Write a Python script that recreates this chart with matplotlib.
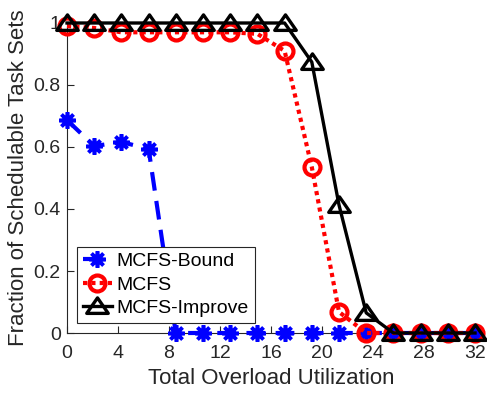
import numpy as np
import matplotlib
matplotlib.use("Agg")
import matplotlib.pyplot as plt
from matplotlib.path import Path
from matplotlib.ticker import FuncFormatter

plt.rcParams['font.family'] = ['Liberation Sans', 'DejaVu Sans']

# Total overload utilization (16 evenly spaced settings from 0 to 32)
utilization = np.linspace(0, 32, 16)

mcfs_bound = [0.687, 0.603, 0.616, 0.594, 0.0, 0.0, 0.0, 0.0,
              0.0, 0.0, 0.0, 0.0, 0.0, 0.0, 0.0, 0.0]
mcfs = [0.99, 0.984, 0.97, 0.97, 0.97, 0.97, 0.97, 0.965,
        0.91, 0.535, 0.068, 0.0, 0.0, 0.0, 0.0, 0.0]
mcfs_improve = [1.0, 1.0, 1.0, 1.0, 1.0, 1.0, 1.0, 1.0,
                1.0, 0.874, 0.413, 0.065, 0.0, 0.0, 0.0, 0.0]

series_labels = ["MCFS-Bound", "MCFS", "MCFS-Improve"]
x_ticks = [0, 4, 8, 12, 16, 20, 24, 28, 32]
y_ticks = [0, 0.2, 0.4, 0.6, 0.8, 1.0]

ink = "#262626"

# wide, flat triangle marker
tri = Path([(-1.25, -0.8), (1.25, -0.8), (0.0, 1.0), (-1.25, -0.8)],
           [Path.MOVETO, Path.LINETO, Path.LINETO, Path.CLOSEPOLY])

fig = plt.figure(figsize=(4.87, 3.93), dpi=100)
ax = fig.add_axes([67 / 487, 1 - 333 / 393, 408 / 487, 310 / 393])

ax.plot(utilization, mcfs_bound, color="blue", linestyle=(0, (4.5, 2.5)),
        linewidth=3.0, marker=(8, 2, 0), markersize=12, markeredgewidth=2.6,
        label=series_labels[0], clip_on=False, zorder=3)
ax.plot(utilization, mcfs, color="red", linestyle=(0, (1, 1)),
        linewidth=3.0, marker="o", markersize=11.5, markerfacecolor="none",
        markeredgewidth=3.0, label=series_labels[1], clip_on=False, zorder=4)
ax.plot(utilization, mcfs_improve, color="black", linestyle="-",
        linewidth=2.4, marker=tri, markersize=15.5, markerfacecolor="none",
        markeredgewidth=2.4, label=series_labels[2], clip_on=False, zorder=5)

ax.set_xlim(0, 32)
ax.set_ylim(0, 1)
ax.set_xticks(x_ticks)
ax.set_yticks(y_ticks)
ax.yaxis.set_major_formatter(FuncFormatter(lambda v, p: f"{v:g}"))

for side in ("top", "right"):
    ax.spines[side].set_visible(False)
for side in ("left", "bottom"):
    ax.spines[side].set_color(ink)
    ax.spines[side].set_linewidth(0.8)

ax.tick_params(direction="in", length=5, width=0.8, colors=ink,
               labelsize=14, top=False, right=False)
ax.tick_params(axis="x", pad=8.5)
ax.tick_params(axis="y", pad=4.5)

ax.set_xlabel("Total Overload Utilization", fontsize=16, color=ink, labelpad=4.5)
ax.set_ylabel("Fraction of Schedulable Task Sets", fontsize=16, color=ink,
              labelpad=3)

leg = ax.legend(loc="lower left", bbox_to_anchor=(10 / 408, 10 / 310),
                fontsize=14, frameon=True, fancybox=False, framealpha=1,
                edgecolor=ink, handlelength=1.5, handletextpad=0.25,
                borderpad=0.3, labelspacing=0.3, borderaxespad=0)
leg.get_frame().set_linewidth(0.8)
leg.set_zorder(10)
for t in leg.get_texts():
    t.set_color("black")

fig.savefig("out.png", dpi=100)
